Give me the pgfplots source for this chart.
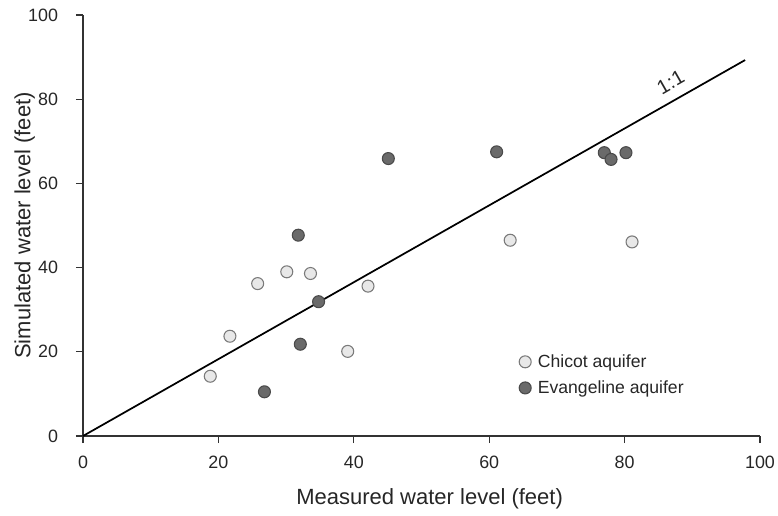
\documentclass[border=0pt]{standalone}
\usepackage{fontspec}
\setmainfont{Liberation Sans}
\usepackage{pgfplots}
\pgfplotsset{compat=1.18}

\definecolor{chicotfill}{HTML}{E8E8E8}
\definecolor{chicotedge}{HTML}{7A7A7A}
\definecolor{evanfill}{HTML}{6A6A6A}
\definecolor{evanedge}{HTML}{4A4A4A}

\begin{document}
\begin{tikzpicture}
\useasboundingbox (-62.25pt,-59.25pt) rectangle (521.25pt,327pt);
\begin{axis}[
    at={(0,0)}, anchor=south west,
    scale only axis,
    width=507.75pt, height=315.75pt,
    xmin=0, xmax=100, ymin=0, ymax=100,
    xtick={0,20,...,100}, ytick={0,20,...,100},
    axis x line*=bottom, axis y line*=left,
    axis line style={line width=0.8pt, draw=black!80},
    tick style={line width=0.8pt, draw=black!80},
    tick align=outside,
    major tick length=5.25pt,
    /pgf/number format/assume math mode=true,
    tick label style={font=\fontsize{13.4}{15}\selectfont, text=black!85},
    xticklabel style={yshift=-6.5pt},
    yticklabel style={xshift=-10pt},
    xlabel={Measured water level (feet)},
    ylabel={Simulated water level (feet)},
    label style={font=\fontsize{16.5}{19}\selectfont, text=black!85},
    xlabel style={at={(axis description cs:0.512,-0.15)}, anchor=center},
    ylabel style={at={(axis description cs:-0.086,0.5)}, anchor=center, rotate=0},
    legend style={draw=none, fill=none, at={(axis description cs:0.638,0.207)},
        anchor=north west, font=\fontsize{13.2}{15}\selectfont,
        row sep=4.5pt, text=black!85},
    legend cell align=left,
    clip=false,
]
% Chicot aquifer
\addplot[only marks, mark=*, mark size=4.5pt,
    mark options={fill=chicotfill, draw=chicotedge, line width=0.8pt}]
    coordinates {
    (18.8,14.2) (21.7,23.7) (25.8,36.2) (30.1,39.0) (33.6,38.6)
    (42.1,35.6) (39.1,20.1) (63.1,46.5) (81.1,46.1)
};
\addlegendentry{\hspace{3pt}Chicot aquifer}
% Evangeline aquifer
\addplot[only marks, mark=*, mark size=4.5pt,
    mark options={fill=evanfill, draw=evanedge, line width=0.8pt}]
    coordinates {
    (31.8,47.7) (45.1,65.9) (61.1,67.5) (77.0,67.3) (78.0,65.7)
    (80.2,67.3) (34.8,31.9) (32.1,21.8) (26.8,10.5)
};
\addlegendentry{\hspace{3pt}Evangeline aquifer}
% 1:1 line
\addplot[black, line width=1.3pt, forget plot] coordinates {(0,0) (97.8,89.3)};
\node[rotate=29.6, font=\fontsize{15}{17}\selectfont, text=black!85, inner sep=0pt]
    at (axis cs:86.8,84.0) {1:1};
\end{axis}
\end{tikzpicture}
\end{document}
